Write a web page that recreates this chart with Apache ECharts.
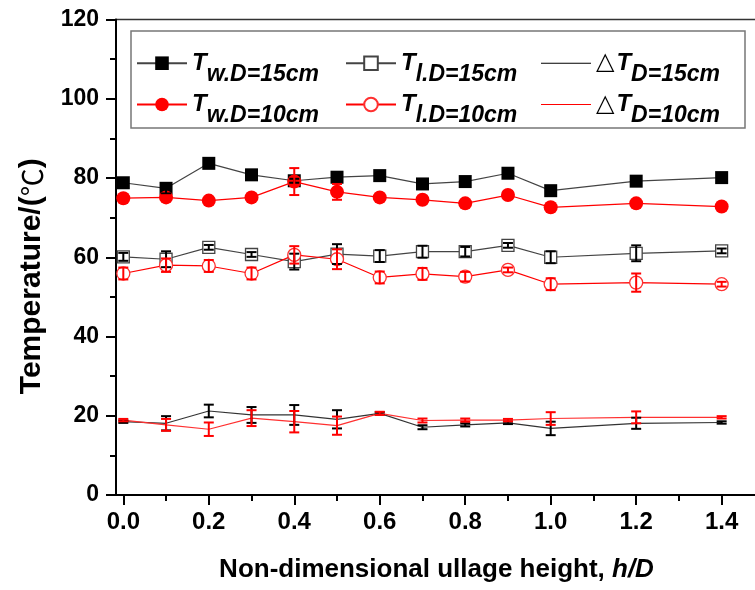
<!DOCTYPE html>
<html>
<head>
<meta charset="utf-8">
<script src="https://cdn.jsdelivr.net/npm/echarts@6/dist/echarts.min.js"></script>
<style>
  html, body { margin: 0; padding: 0; background: #fff; }
  #chart { width: 755px; height: 590px; }
</style>
</head>
<body>
<div id="chart"></div>
<script>
// Non-dimensional ullage height h/D
const hOverD = [0.0, 0.1, 0.2, 0.3, 0.4, 0.5, 0.6, 0.7, 0.8, 0.9, 1.0, 1.2, 1.4];

// Wall temperature, D = 15 cm and D = 10 cm (with error half-widths)
const twD15    = [78.8, 77.4, 83.7, 80.8, 79.3, 80.2, 80.6, 78.5, 79.1, 81.2, 76.8, 79.2, 80.1];
const twD15Err = [0.6, 1.3, 0.5, 0.5, 0.5, 0.8, 0.5, 0.5, 0.8, 0.8, 0.6, 0.8, 0.5];
const twD10    = [74.9, 75.1, 74.3, 75.1, 79.1, 76.5, 75.1, 74.5, 73.6, 75.7, 72.6, 73.6, 72.8];
const twD10Err = [0.5, 0.5, 0.5, 0.5, 3.4, 2.0, 0.5, 0.5, 0.5, 0.5, 0.5, 0.5, 0.5];

// Liquid temperature, D = 15 cm and D = 10 cm
const tlD15    = [60.1, 59.5, 62.5, 60.7, 58.9, 60.8, 60.3, 61.4, 61.4, 63.0, 60.0, 61.0, 61.6];
const tlD15Err = [1.0, 2.0, 0.6, 0.6, 2.0, 2.5, 1.5, 1.5, 1.2, 0.6, 1.5, 2.0, 0.6];
const tlD10    = [55.9, 58.0, 57.8, 55.9, 60.6, 59.5, 54.9, 55.8, 55.1, 56.8, 53.2, 53.6, 53.2];
const tlD10Err = [1.5, 1.7, 1.5, 1.5, 2.2, 2.5, 1.5, 1.5, 1.2, 0.6, 1.5, 2.3, 0.6];

// Temperature difference, D = 15 cm and D = 10 cm
const dtD15    = [18.5, 18.1, 21.2, 20.2, 20.2, 19.1, 20.6, 17.1, 17.7, 18.2, 16.8, 18.1, 18.3];
const dtD15Err = [0.3, 1.8, 1.6, 2.0, 2.5, 2.3, 0.3, 0.5, 0.4, 0.3, 1.7, 1.4, 0.3];
const dtD10    = [18.9, 17.7, 16.6, 19.4, 18.5, 17.5, 20.6, 18.8, 18.9, 18.9, 19.3, 19.6, 19.6];
const dtD10Err = [0.3, 1.5, 1.7, 2.0, 2.7, 2.3, 0.4, 0.5, 0.4, 0.3, 1.6, 1.5, 0.3];

// Axis ticks
const xTickValues = [0.0, 0.2, 0.4, 0.6, 0.8, 1.0, 1.2, 1.4];
const xMinorTickValues = [0.1, 0.3, 0.5, 0.7, 0.9, 1.1, 1.3];
const yTicks = { min: 0, max: 120, interval: 20 };

const FONT = 'Liberation Sans, Arial, Helvetica, sans-serif';
const BLACK = '#000';
const RED = '#ff0000';

function pairs(values, errs) {
  return hOverD.map((x, i) => errs ? [x, values[i], errs[i]] : [x, values[i]]);
}

function errorBars(color) {
  return function (params, api) {
    const x = api.value(0), v = api.value(1), e = api.value(2);
    const top = api.coord([x, v + e]);
    const bot = api.coord([x, v - e]);
    const hw = 5;
    const style = { stroke: color, lineWidth: 2 };
    return {
      type: 'group',
      children: [
        { type: 'line', shape: { x1: top[0], y1: top[1], x2: bot[0], y2: bot[1] }, style },
        { type: 'line', shape: { x1: top[0] - hw, y1: top[1], x2: top[0] + hw, y2: top[1] }, style },
        { type: 'line', shape: { x1: bot[0] - hw, y1: bot[1], x2: bot[0] + hw, y2: bot[1] }, style }
      ]
    };
  };
}

function errorSeries(values, errs, color) {
  return {
    type: 'custom',
    xAxisIndex: 0,
    yAxisIndex: 0,
    z: 4,
    silent: true,
    encode: { x: 0, y: 1 },
    data: pairs(values, errs),
    renderItem: errorBars(color)
  };
}

const legendRich = {
  t: { fontFamily: FONT, fontSize: 24, fontWeight: 'bold', fontStyle: 'italic', color: BLACK, lineHeight: 24, padding: [12, 0, 12, 0] },
  s: { fontFamily: FONT, fontSize: 23, fontWeight: 'bold', fontStyle: 'italic', color: BLACK, lineHeight: 23, padding: [22, 0, 0, 0] },
  d: { fontFamily: 'DejaVu Sans, sans-serif', fontSize: 24, fontWeight: 'normal', color: BLACK, lineHeight: 24, padding: [12, 2, 12, 0] }
};

const legendLabels = {
  'Tw D15': '{t|T}{s|w.D=15cm}',
  'Tl D15': '{t|T}{s|l.D=15cm}',
  'dT D15': '{d|△}{t|T}{s|D=15cm}',
  'Tw D10': '{t|T}{s|w.D=10cm}',
  'Tl D10': '{t|T}{s|l.D=10cm}',
  'dT D10': '{d|△}{t|T}{s|D=10cm}'
};

const linePath = 'path://M0,0H50V1H0Z';

function legendItem(name, left, top, icon) {
  const item = { name };
  if (icon) item.icon = icon;
  return {
    data: [item],
    left, top,
    padding: 0,
    itemWidth: 50,
    itemHeight: 17,
    selectedMode: false,
    formatter: n => legendLabels[n],
    textStyle: { rich: legendRich }
  };
}

const chart = echarts.init(document.getElementById('chart'), null, { renderer: 'canvas' });

chart.setOption({
  animation: false,
  backgroundColor: '#fff',
  grid: {
    left: 116, right: -2, top: 19.5, bottom: 95,
    show: true, borderColor: '#333', borderWidth: 1.5,
    outerBoundsMode: 'none'
  },
  graphic: [{
    type: 'rect',
    shape: { x: 131, y: 31, width: 614, height: 97 },
    style: { fill: 'none', stroke: '#777', lineWidth: 1.5 },
    z: 1
  }],
  legend: [
    legendItem('Tw D15', 136, 39.2),
    legendItem('Tl D15', 345, 39.2),
    legendItem('dT D15', 541, 39.2, linePath),
    legendItem('Tw D10', 136, 80.5),
    legendItem('Tl D10', 345, 80.5),
    legendItem('dT D10', 541, 80.5, linePath)
  ],
  xAxis: [{
    type: 'value',
    min: -0.0171, max: 1.4827,
    position: 'bottom',
    splitLine: { show: false },
    axisLine: { onZero: false, lineStyle: { color: BLACK, width: 2 } },
    axisTick: { customValues: xTickValues, length: 10, inside: false, lineStyle: { color: BLACK, width: 2 } },
    axisLabel: {
      customValues: xTickValues,
      formatter: v => v.toFixed(1),
      fontFamily: FONT, fontSize: 24, fontWeight: 'bold', color: BLACK, margin: 15
    },
    name: '{a|Non-dimensional ullage height, }{b|h/D}',
    nameLocation: 'middle',
    nameGap: 62,
    nameTextStyle: {
      rich: {
        a: { fontFamily: FONT, fontSize: 26, fontWeight: 'bold', color: BLACK },
        b: { fontFamily: FONT, fontSize: 26, fontWeight: 'bold', fontStyle: 'italic', color: BLACK }
      }
    }
  }, {
    type: 'value',
    min: -0.0171, max: 1.4827,
    position: 'bottom',
    splitLine: { show: false },
    axisLine: { show: false, onZero: false },
    axisTick: { customValues: xMinorTickValues, length: 6, inside: false, lineStyle: { color: BLACK, width: 2 } },
    axisLabel: { show: false }
  }],
  yAxis: {
    type: 'value',
    min: yTicks.min, max: yTicks.max, interval: yTicks.interval,
    splitLine: { show: false },
    axisLine: { show: true, onZero: false, lineStyle: { color: BLACK, width: 2 } },
    axisTick: { show: true, length: 10, inside: false, lineStyle: { color: BLACK, width: 2 } },
    minorTick: { show: true, splitNumber: 2, length: 6, lineStyle: { color: BLACK, width: 2 } },
    axisLabel: { fontFamily: FONT, fontSize: 23, fontWeight: 'bold', color: BLACK, margin: 17 },
    name: '{a|Temperature/(}{c|℃}{a|)}',
    nameLocation: 'middle',
    nameGap: 69,
    nameRotate: 90,
    nameTextStyle: {
      padding: [0, 38, 0, 0],
      rich: {
        a: { fontFamily: FONT, fontSize: 30, fontWeight: 'bold', color: BLACK },
        c: { fontFamily: 'Noto Sans CJK SC, sans-serif', fontSize: 28, fontWeight: 'normal', color: BLACK }
      }
    }
  },
  series: [
    {
      name: 'Tw D15', type: 'line', data: pairs(twD15),
      symbol: 'rect', symbolSize: 13,
      itemStyle: { color: BLACK },
      lineStyle: { color: '#444', width: 1.2 }, z: 2
    },
    {
      name: 'Tl D15', type: 'line', data: pairs(tlD15),
      symbol: 'rect', symbolSize: 12,
      itemStyle: { color: '#fff', borderColor: '#444', borderWidth: 1.3 },
      lineStyle: { color: '#444', width: 1.2 }, z: 2
    },
    {
      name: 'dT D15', type: 'line', data: pairs(dtD15),
      symbol: 'none',
      itemStyle: { color: BLACK },
      lineStyle: { color: '#333', width: 1.2 }, z: 2
    },
    {
      name: 'Tw D10', type: 'line', data: pairs(twD10),
      symbol: 'circle', symbolSize: 14,
      itemStyle: { color: RED },
      lineStyle: { color: RED, width: 1.2 }, z: 3
    },
    {
      name: 'Tl D10', type: 'line', data: pairs(tlD10),
      symbol: 'circle', symbolSize: 13,
      itemStyle: { color: '#fff', borderColor: '#ff3030', borderWidth: 1.3 },
      lineStyle: { color: RED, width: 1.2 }, z: 3
    },
    {
      name: 'dT D10', type: 'line', data: pairs(dtD10),
      symbol: 'none',
      itemStyle: { color: RED },
      lineStyle: { color: '#ff3030', width: 1.2 }, z: 3
    },
    errorSeries(twD15, twD15Err, BLACK),
    errorSeries(tlD15, tlD15Err, BLACK),
    errorSeries(dtD15, dtD15Err, BLACK),
    errorSeries(twD10, twD10Err, RED),
    errorSeries(tlD10, tlD10Err, RED),
    errorSeries(dtD10, dtD10Err, RED)
  ]
});
</script>
</body>
</html>
